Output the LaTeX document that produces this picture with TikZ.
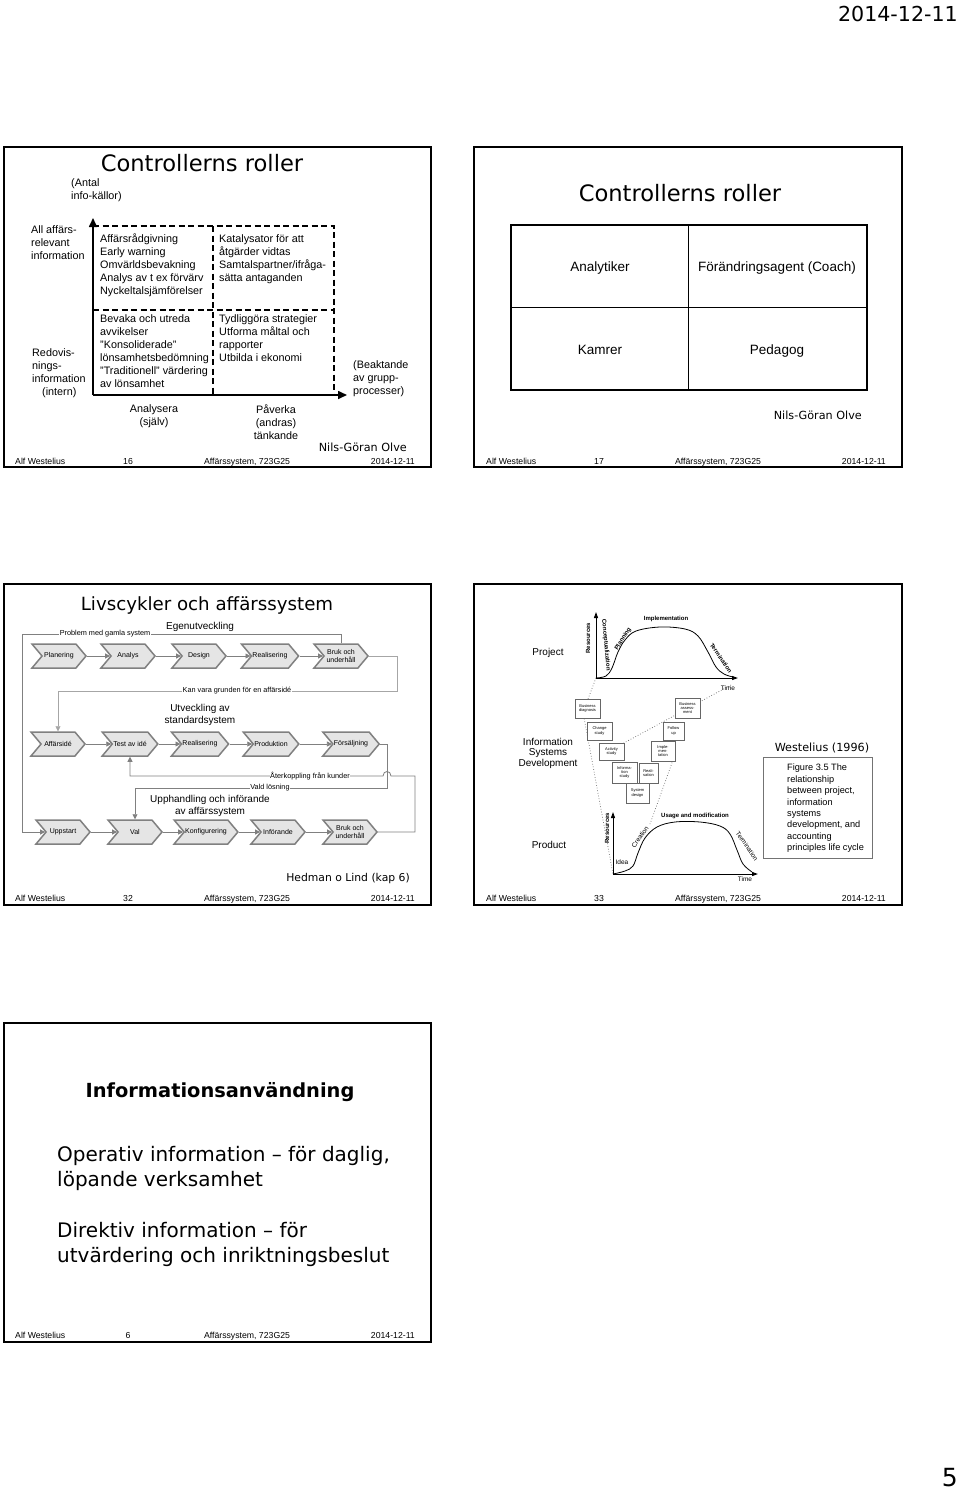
\documentclass[tikz,border=0pt]{standalone}
\usepackage{fontspec}
\setmainfont{Liberation Sans}
\newfontfamily\comic{DejaVu Sans}
\usetikzlibrary{shapes.symbols,arrows.meta}
\newcommand\slidefooter[4]{%
  \node[foot,anchor=base west] (#1a) at (#2+15,#3+3) {Alf Westelius};
  \node[foot,anchor=base] (#1b) at (#2+128,#3+3) {#4};
  \node[foot,anchor=base] (#1c) at (#2+247,#3+3) {Affärssystem, 723G25};
  \node[foot,anchor=base east] (#1d) at (#2+415,#3+3) {2014-12-11};
}
\begin{document}
\begin{tikzpicture}[x=1pt,y=-1pt,
  frame/.style={draw=black,line width=1.7pt},
  foot/.style={font=\fontsize{8.7}{10}\selectfont,inner sep=0pt},
  ctitle/.style={font=\comic\fontsize{22.6}{26}\selectfont,inner sep=0pt},
  cauthor/.style={font=\comic\fontsize{11.2}{14}\selectfont,inner sep=0pt},
  quad/.style={font=\fontsize{10.8}{13}\selectfont,align=left,anchor=north west,inner sep=0pt},
  axis/.style={line width=1.6pt,-{Triangle[length=9pt,width=8pt]}},
  dash16/.style={line width=1.3pt,dash pattern=on 6pt off 3.5pt},
  cell/.style={font=\fontsize{13.5}{16}\selectfont,inner sep=0pt,anchor=base},
  chev/.style={signal,signal to=east,signal from=west,signal pointer angle=100,
    minimum width=54pt,minimum height=24pt,inner sep=1pt,fill=black!10,draw=black!50,
    line width=1.5pt,font=\fontsize{7}{8}\selectfont,align=center},
  carrow/.style={draw=black!50,line width=0.8pt,-{Triangle[length=5pt,width=5pt]}},
  lab/.style={font=\fontsize{7.3}{8}\selectfont,fill=white,inner sep=0.6pt},
  sub/.style={font=\fontsize{10}{12}\selectfont,align=center,inner sep=0pt},
  txt10/.style={font=\fontsize{10}{10.5}\selectfont,inner sep=0pt},
  tiny/.style={font=\bfseries\fontsize{6}{7}\selectfont,inner sep=0pt},
  small/.style={font=\fontsize{6.5}{7}\selectfont,inner sep=0pt},
  isbox/.style={draw=black!60,line width=0.9pt,fill=white,font=\fontsize{4}{4.4}\selectfont,align=center,inner sep=0.3pt},
  dots/.style={draw=black!60,line width=0.7pt,dotted}
]
\useasboundingbox (0,0) rectangle (960,1489);
\fill[white] (0,0) rectangle (960,1489);

% page header / number
\node[font=\comic\fontsize{20.6}{24}\selectfont,anchor=east,inner sep=0pt] (date) at (958,14) {2014-12-11};
\node[font=\comic\fontsize{25}{28}\selectfont,anchor=base east,inner sep=0pt] (pnum) at (958,1486) {5};

% ================= Slide 16 =================
\draw[frame] (4,147) rectangle (431,467);
\node[ctitle] (t16) at (202,163) {Controllerns roller};
\node[quad] (antal) at (71,178) {(Antal\\info-källor)};
\coordinate (o16) at (93,395);
\coordinate (y16) at (93,218);
\coordinate (x16) at (347,395);
\draw[dash16] (93,226) -- (334,226) -- (334,395);
\draw[dash16] (93,310) -- (334,310);
\draw[dash16] (213,226) -- (213,395);
\draw[axis] (o16) -- (y16);
\draw[axis] (o16) -- (x16);
\node[quad] (q1) at (100,234) {Affärsrådgivning\\Early warning\\Omvärldsbevakning\\Analys av t ex förvärv\\Nyckeltalsjämförelser};
\node[quad] (q2) at (219,234) {Katalysator för att\\åtgärder vidtas\\Samtalspartner/ifråga-\\sätta antaganden};
\node[quad] (q3) at (100,314.5) {Bevaka och utreda\\avvikelser\\"Konsoliderade"\\lönsamhetsbedömning\\"Traditionell" värdering\\av lönsamhet};
\node[quad] (q4) at (219,314.5) {Tydliggöra strategier\\Utforma måltal och\\rapporter\\Utbilda i ekonomi};
\node[quad] (allaff) at (31,225.5) {All affärs-\\relevant\\information};
\node[quad] (redov) at (32,348.5) {Redovis-\\nings-\\information\\\hspace*{10pt}(intern)};
\node[quad] (beakt) at (353,360.5) {(Beaktande\\av grupp-\\processer)};
\node[quad,align=center,anchor=north] (analys) at (154,404.5) {Analysera\\(själv)};
\node[quad,align=center,anchor=north] (paverka) at (276,404.5) {Påverka\\(andras)\\tänkande};
\node[cauthor,anchor=east] (olve16) at (407,447) {Nils-Göran Olve};
\slidefooter{f16}{0}{461}{16}

% ================= Slide 17 =================
\draw[frame] (474,147) rectangle (902,467);
\node[ctitle] (t17) at (680,193) {Controllerns roller};
\draw[line width=1.4pt] (511,225) rectangle (867,390);
\draw[line width=1pt] (688,225) -- (688,390);
\draw[line width=1pt] (511,307) -- (867,307);
\node[cell] (c1) at (600,271) {Analytiker};
\node[cell] (c2) at (777,271) {Förändringsagent (Coach)};
\node[cell] (c3) at (600,354) {Kamrer};
\node[cell] (c4) at (777,354) {Pedagog};
\node[cauthor,anchor=east] (olve17) at (862,415) {Nils-Göran Olve};
\slidefooter{f17}{471}{461}{17}

% ================= Slide 32 =================
\draw[frame] (4,584) rectangle (431,905);
\node[font=\comic\fontsize{18.2}{22}\selectfont,inner sep=0pt] (t32) at (207,605) {Livscykler och affärssystem};
\node[sub] (egen) at (200,627) {Egenutveckling};
\node[sub] (utv) at (200,715) {Utveckling av\\standardsystem};
\node[sub] (upph) at (210,806) {Upphandling och införande\\av affärssystem};
% row 1
\node[chev] (p1) at (59,656) {Planering};
\node[chev] (p2) at (128,656) {Analys};
\node[chev] (p3) at (199,656) {Design};
\node[chev] (p4) at (270,656) {Realisering};
\node[chev] (p5) at (341,656) {Bruk och\\underhåll};
% row 2
\node[chev] (s1) at (58,744) {Affärsidé};
\node[chev] (s2) at (130,744) {Test av idé};
\node[chev] (s3) at (200,744) {Realisering};
\node[chev] (s4) at (271,744) {Produktion};
\node[chev] (s5) at (351,744) {Försäljning};
% row 3
\node[chev] (u1) at (63,832) {Uppstart};
\node[chev] (u2) at (135,832) {Val};
\node[chev] (u3) at (206,832) {Konfigurering};
\node[chev] (u4) at (278,832) {Införande};
\node[chev] (u5) at (350,832) {Bruk och\\underhåll};
\foreach \a/\b in {p1/p2,p2/p3,p3/p4,p4/p5,s1/s2,s2/s3,s3/s4,s4/s5,u1/u2,u2/u3,u3/u4,u4/u5}
  \draw[carrow] (\a.east) -- (\b.west);
% loops
\coordinate (pb) at (22,634);
\draw[carrow] (p5.north) |- (pb) |- (u1.west);
\node[lab] (lpm) at (105,634) {Problem med gamla system};
\coordinate (kv) at (397,691);
\draw[carrow,draw=black!35,line width=0.6pt] (p5.east) -| (kv) -| (s1.north);
\node[lab] (lkv) at (237,691) {Kan vara grunden för en affärsidé};
\coordinate (vl) at (387,788);
\draw[carrow] (s5.east) -| (vl) -| (u2.north);
\node[lab] (lvl) at (270,788) {Vald lösning};
\coordinate (ak) at (415,776);
\draw[carrow] (u5.east) -| (ak) -- (391,776) .. controls (391,770) and (383,770) .. (383,776) -| (s2.south);
\node[lab] (lak) at (310,776) {Återkoppling från kunder};
\node[font=\comic\fontsize{10.8}{13}\selectfont,inner sep=0pt,anchor=east] (hedman) at (410,879) {Hedman o Lind (kap 6)};
\slidefooter{f32}{0}{898}{32}

% ================= Slide 33 =================
\draw[frame] (474,584) rectangle (902,905);
\node[txt10] (proj) at (548,653) {Project};
\node[txt10,align=center] (isd) at (548,753) {Information\\Systems\\Development};
\node[txt10] (prod) at (549,845) {Product};
% top graph
\coordinate (po) at (596,678);
\coordinate (py) at (596,612);
\coordinate (px) at (738,678);
\coordinate (qo) at (613,874);
\coordinate (qy) at (613,812);
\coordinate (qx) at (758,874);
% dotted funnels
\draw[dots] (po) -- (583,712) -- (qo);
\draw[dots] (731,685) -- (622,744);
\draw[dots] (673,760) -- (650,824);
\draw[line width=1pt,-{Triangle[length=6pt,width=4pt]}] (po) -- (py);
\draw[line width=1pt,-{Triangle[length=6pt,width=4pt]}] (po) -- (px);
\draw[line width=0.8pt] plot[smooth,tension=0.6] coordinates {(596,678) (606,676) (612,668) (618,652) (625,640) (636,631) (660,627) (685,629) (698,636) (708,652) (716,667) (724,674) (733,677)};
\node[tiny,rotate=90] (res1) at (588,638) {Resources};
\node[tiny,rotate=-85] (conc) at (606,645) {Conceptualization};
\node[tiny,rotate=58] (plan) at (623,639) {Planning};
\node[tiny] (implt) at (666,619) {Implementation};
\node[tiny,rotate=-55] (term1) at (721,658) {Termination};
\node[small] (time1) at (728,688) {Time};
% boxes
\node[isbox,minimum width=25pt,minimum height=19pt] (bd) at (587.5,708.5) {Business\\diagnosis};
\node[isbox,minimum width=25pt,minimum height=18pt] (cs) at (599.5,731) {Change\\study};
\node[isbox,minimum width=25pt,minimum height=17pt] (as) at (611.5,751.5) {Activity\\study};
\node[isbox,minimum width=25pt,minimum height=21pt] (ist) at (624.5,772.5) {Informa-\\tion\\study};
\node[isbox,minimum width=23pt,minimum height=20pt] (sd) at (637.5,793) {System\\design};
\node[isbox,minimum width=19pt,minimum height=20pt] (rs) at (648.5,773) {Reali-\\sation};
\node[isbox,minimum width=24pt,minimum height=20pt] (im) at (663,751) {Imple-\\men-\\tation};
\node[isbox,minimum width=21pt,minimum height=18pt] (fu) at (673.5,731) {Follow\\up};
\node[isbox,minimum width=25pt,minimum height=20pt] (ba) at (687.5,708) {Business\\assess-\\ment};
% bottom graph
\draw[line width=1pt,-{Triangle[length=6pt,width=4pt]}] (qo) -- (qy);
\draw[line width=1pt,-{Triangle[length=6pt,width=4pt]}] (qo) -- (qx);
\draw[line width=0.8pt] plot[smooth,tension=0.6] coordinates {(613,874) (625,871) (633,866) (638,853) (645,838) (657,827) (675,822) (700,822) (720,826) (730,834) (737,850) (743,864) (752,872)};
\node[tiny,rotate=90] (res2) at (607,828) {Resources};
\node[small] (idea) at (622,862) {Idea};
\node[small,rotate=55] (creat) at (640,837) {Creation};
\node[tiny] (usage) at (695,816) {Usage and modification};
\node[small,rotate=-55] (term2) at (747,846) {Termination};
\node[small] (time2) at (745,879) {Time};
% reference
\node[cauthor] (west) at (822,748) {Westelius (1996)};
\node[draw=black!55,line width=0.8pt,minimum width=109pt,minimum height=101pt,inner sep=0pt] (figbox) at (817.5,807.5) {};
\node[font=\fontsize{9.2}{11.4}\selectfont,align=left,anchor=north west,inner sep=0pt] (figtxt) at (787,764) {Figure 3.5 The\\relationship\\between project,\\information\\systems\\development, and\\accounting\\principles life cycle};
\slidefooter{f33}{471}{898}{33}

% ================= Slide 6 =================
\draw[frame] (4,1023) rectangle (431,1342);
\node[font=\comic\bfseries\fontsize{19.4}{23}\selectfont,inner sep=0pt] (t6) at (220,1092) {Informationsanvändning};
\node[font=\comic\fontsize{20}{25}\selectfont,align=left,anchor=west,inner sep=0pt] (b6a) at (57,1168.5) {Operativ information – för daglig,\\löpande verksamhet};
\node[font=\comic\fontsize{20}{25}\selectfont,align=left,anchor=west,inner sep=0pt] (b6b) at (57,1244.5) {Direktiv information – för\\utvärdering och inriktningsbeslut};
\slidefooter{f6}{0}{1335}{6}
\end{tikzpicture}
\end{document}
